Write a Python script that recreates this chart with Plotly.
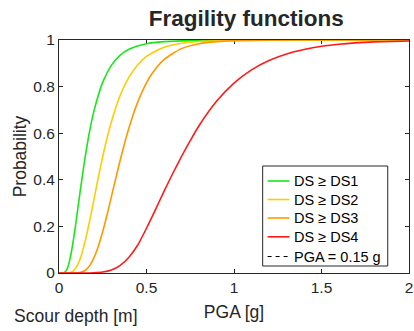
import plotly.graph_objects as go

# ---------------- data ----------------
pga_value = 0.15
series_labels = ["DS ≥ DS1", "DS ≥ DS2", "DS ≥ DS3", "DS ≥ DS4"]

pga_ds1 = [0.0, 0.02, 0.03, 0.04, 0.05, 0.06, 0.07, 0.08, 0.09, 0.10, 0.12, 0.14, 0.16, 0.18, 0.20,
           0.25, 0.30, 0.35, 0.40, 0.50, 0.60, 0.80, 1.00, 1.50, 2.00]
prob_ds1 = [0.0, 0.0002, 0.002, 0.009, 0.025, 0.051, 0.087, 0.131, 0.181, 0.235, 0.345, 0.451, 0.546,
            0.628, 0.696, 0.819, 0.892, 0.935, 0.960, 0.984, 0.993, 0.9986, 0.9997, 1.0, 1.0]

pga_ds2 = [0.0, 0.04, 0.06, 0.08, 0.10, 0.12, 0.14, 0.16, 0.18, 0.20, 0.22, 0.25, 0.28, 0.32, 0.36,
           0.40, 0.45, 0.50, 0.60, 0.70, 0.80, 1.00, 1.30, 2.00]
prob_ds2 = [0.0, 0.0, 0.0012, 0.0077, 0.026, 0.059, 0.109, 0.171, 0.242, 0.317, 0.393, 0.5, 0.595,
            0.70, 0.781, 0.841, 0.894, 0.930, 0.969, 0.986, 0.9933, 0.9984, 0.9998, 1.0]

pga_ds3 = [0.0, 0.09, 0.12, 0.14, 0.16, 0.18, 0.20, 0.22, 0.25, 0.28, 0.31, 0.34, 0.37, 0.40, 0.44,
           0.48, 0.53, 0.60, 0.70, 0.80, 0.90, 1.00, 1.20, 1.50, 2.00]
prob_ds3 = [0.0, 0.0, 0.0022, 0.0072, 0.018, 0.037, 0.066, 0.104, 0.178, 0.266, 0.361, 0.455, 0.543,
            0.623, 0.714, 0.786, 0.854, 0.916, 0.963, 0.984, 0.9929, 0.9968, 0.9993, 1.0, 1.0]

pga_ds4 = [0.0, 0.15, 0.20, 0.25, 0.30, 0.35, 0.40, 0.45, 0.50, 0.55, 0.60, 0.65, 0.70, 0.75, 0.80,
           0.90, 1.00, 1.10, 1.20, 1.30, 1.40, 1.50, 1.60, 1.80, 2.00]
prob_ds4 = [0.0, 0.0, 0.001, 0.004, 0.013, 0.033, 0.068, 0.12, 0.192, 0.27, 0.35, 0.427, 0.5, 0.568,
            0.632, 0.737, 0.815, 0.872, 0.912, 0.94, 0.959, 0.973, 0.982, 0.992, 0.996]

x_ticks = [0, 0.5, 1, 1.5, 2]
y_ticks = [0, 0.2, 0.4, 0.6, 0.8, 1]

# ---------------- styling ----------------
colors = ["#1AE61A", "#FFCC00", "#FF9900", "#FF1A1A"]
FONT = "Liberation Sans, Arial, Helvetica, sans-serif"
TXT = "#262626"
AX = "#262626"
W, H = 414, 331
L, R, T, B = 59, 1, 40, 58


def pxx(p):
    return (p - L) / (W - L - R)


def pxy(p):
    return (H - B - p) / (H - T - B)


fig = go.Figure()
xs = [pga_ds1, pga_ds2, pga_ds3, pga_ds4]
ys = [prob_ds1, prob_ds2, prob_ds3, prob_ds4]
for xv, yv, c, name in zip(xs, ys, colors, series_labels):
    fig.add_trace(go.Scatter(x=xv, y=yv, mode="lines", name=name,
                             line=dict(color=c, width=1.6, shape="spline", smoothing=0.6),
                             showlegend=False, hoverinfo="skip"))

# ---------------- manual MATLAB-like legend ----------------
shapes = []
annotations = []
shapes.append(dict(type="rect", xref="paper", yref="paper",
                   x0=pxx(265), x1=pxx(391.5), y0=pxy(266), y1=pxy(166),
                   line=dict(color=AX, width=1), fillcolor="white", layer="above"))
row_y = [181, 199.5, 218, 236.8, 256.5]
legend_texts = series_labels + [f"PGA = {pga_value} g"]
legend_colors = colors + ["black"]
for i, (yy, txt, c) in enumerate(zip(row_y, legend_texts, legend_colors)):
    shapes.append(dict(type="line", xref="paper", yref="paper",
                       x0=pxx(270), x1=pxx(292), y0=pxy(yy), y1=pxy(yy),
                       line=dict(color=c, width=1.6 if i < 4 else 1.2,
                                 dash="solid" if i < 4 else "4px,4px"),
                       layer="above"))
    annotations.append(dict(xref="paper", yref="paper", x=pxx(295), y=pxy(yy),
                            xanchor="left", yanchor="middle", text=txt, showarrow=False,
                            font=dict(family=FONT, size=14.5, color="black")))

annotations.append(dict(xref="paper", yref="paper", x=pxx(11), y=pxy(316),
                        xanchor="left", yanchor="middle", text="Scour depth [m]", showarrow=False,
                        font=dict(family=FONT, size=17.5, color=TXT)))

fig.update_layout(
    width=W, height=H,
    margin=dict(l=L, r=R, t=T, b=B, pad=0),
    paper_bgcolor="white", plot_bgcolor="white",
    font=dict(family=FONT, color=TXT, size=15.5),
    title=dict(text="<b>Fragility functions</b>", x=pxx(248.5), xref="paper", xanchor="center",
               y=1 - 18.5 / H, yanchor="middle", font=dict(size=22.5, color=TXT, family=FONT)),
    shapes=shapes, annotations=annotations,
    showlegend=False,
)
fig.update_xaxes(range=[0, 2], tickvals=x_ticks, ticks="inside", ticklen=4, tickcolor=AX,
                 showline=True, linecolor=AX, linewidth=1, mirror="ticks", showgrid=False,
                 zeroline=False, layer="below traces", ticklabeloverflow="allow",
                 tickfont=dict(size=15.5, color=TXT, family=FONT),
                 title=dict(text="PGA [g]", font=dict(size=17.5, color=TXT, family=FONT), standoff=11))
fig.update_yaxes(range=[0, 1], tickvals=y_ticks, ticks="inside", ticklen=4, tickcolor=AX,
                 showline=True, linecolor=AX, linewidth=1, mirror="ticks", showgrid=False,
                 zeroline=False, layer="below traces",
                 tickfont=dict(size=15.5, color=TXT, family=FONT),
                 title=dict(text="Probability", font=dict(size=17.5, color=TXT, family=FONT), standoff=2))

fig.write_html("out.html")
